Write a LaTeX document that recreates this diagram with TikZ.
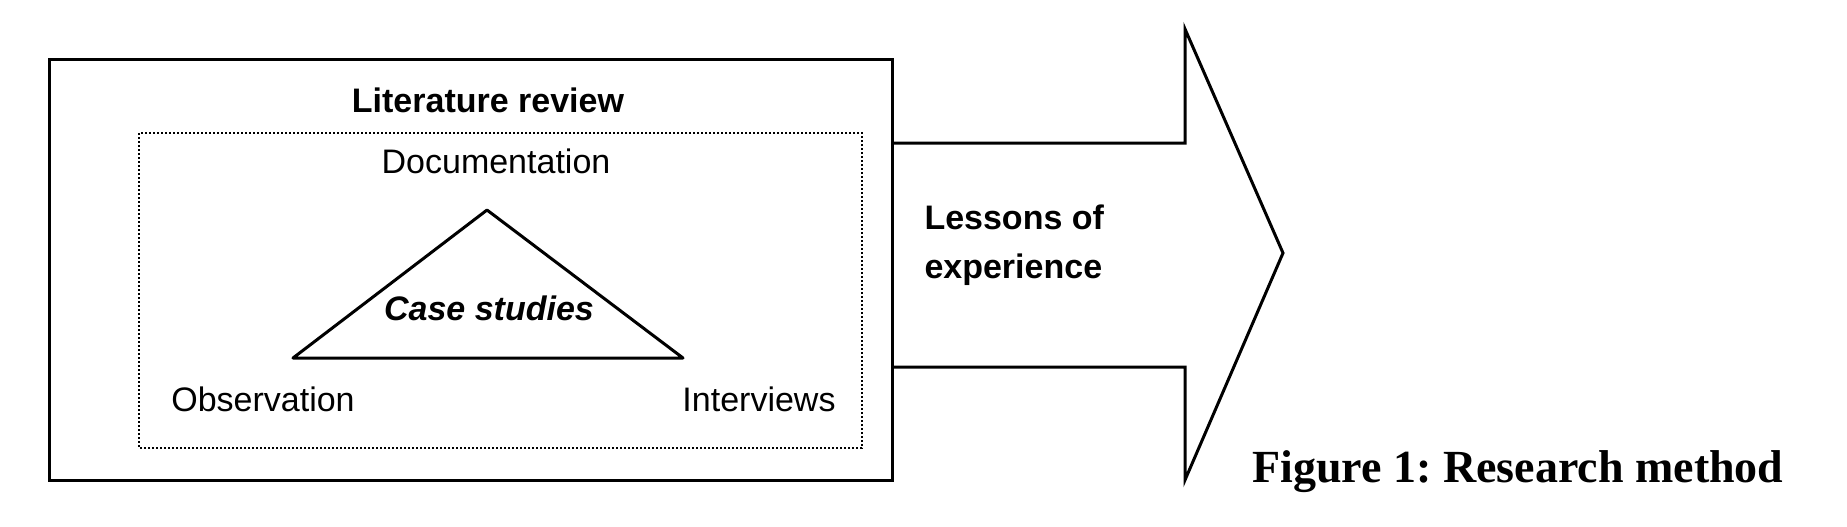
\documentclass[tikz,border=0pt]{standalone}
\usepackage{fontspec}
\setmainfont{Liberation Serif}
\setsansfont{Liberation Sans}
\frenchspacing

\begin{document}
\begin{tikzpicture}[x=0.5pt, y=-0.5pt, line width=1.5pt,
    lbl/.style={font=\sffamily\fontsize{17}{24.5}\selectfont, inner sep=0pt, anchor=base}]
  \useasboundingbox (0,0) rectangle (1847,526);

  % outer and inner boxes
  \coordinate (O1) at (49,59);
  \coordinate (O2) at (892,480);
  \draw (O1) rectangle (O2);
  \coordinate (D1) at (139,133);
  \coordinate (D2) at (862,448);
  \draw[line width=1pt, dash pattern=on 1pt off 1pt] (D1) rectangle (D2);

  % triangle
  \coordinate (T) at (487,210);
  \coordinate (L) at (293,358);
  \coordinate (R) at (683,358);
  \draw[line join=round] (T) -- (L) -- (R) -- cycle;

  \node[lbl] (litrev) at (488,112) {\bfseries Literature review};
  \node[lbl] (doc) at (496,173) {Documentation};
  \node[lbl] (cases) at (489,320) {\bfseries\itshape Case studies};
  \node[lbl] (obs) at (263,411) {Observation};
  \node[lbl] (intv) at (759,411) {Interviews};

  % big arrow
  \coordinate (S1) at (892,143);
  \coordinate (S2) at (1185,143);
  \coordinate (H1) at (1185,29);
  \coordinate (tip) at (1283,253);
  \coordinate (H2) at (1185,480);
  \coordinate (S3) at (1185,367);
  \coordinate (S4) at (892,367);
  \draw (S1) -- (S2) -- (H1) -- (tip) -- (H2) -- (S3) -- (S4);

  \node[lbl, anchor=north west, align=left] (lessons) at (923,203) {\bfseries Lessons of\\\bfseries experience};

  \node[inner sep=0pt, anchor=base west, font=\rmfamily\bfseries\fontsize{23}{27}\selectfont]
    (caption) at (1251,482) {Figure 1: Research method};
\end{tikzpicture}
\end{document}
